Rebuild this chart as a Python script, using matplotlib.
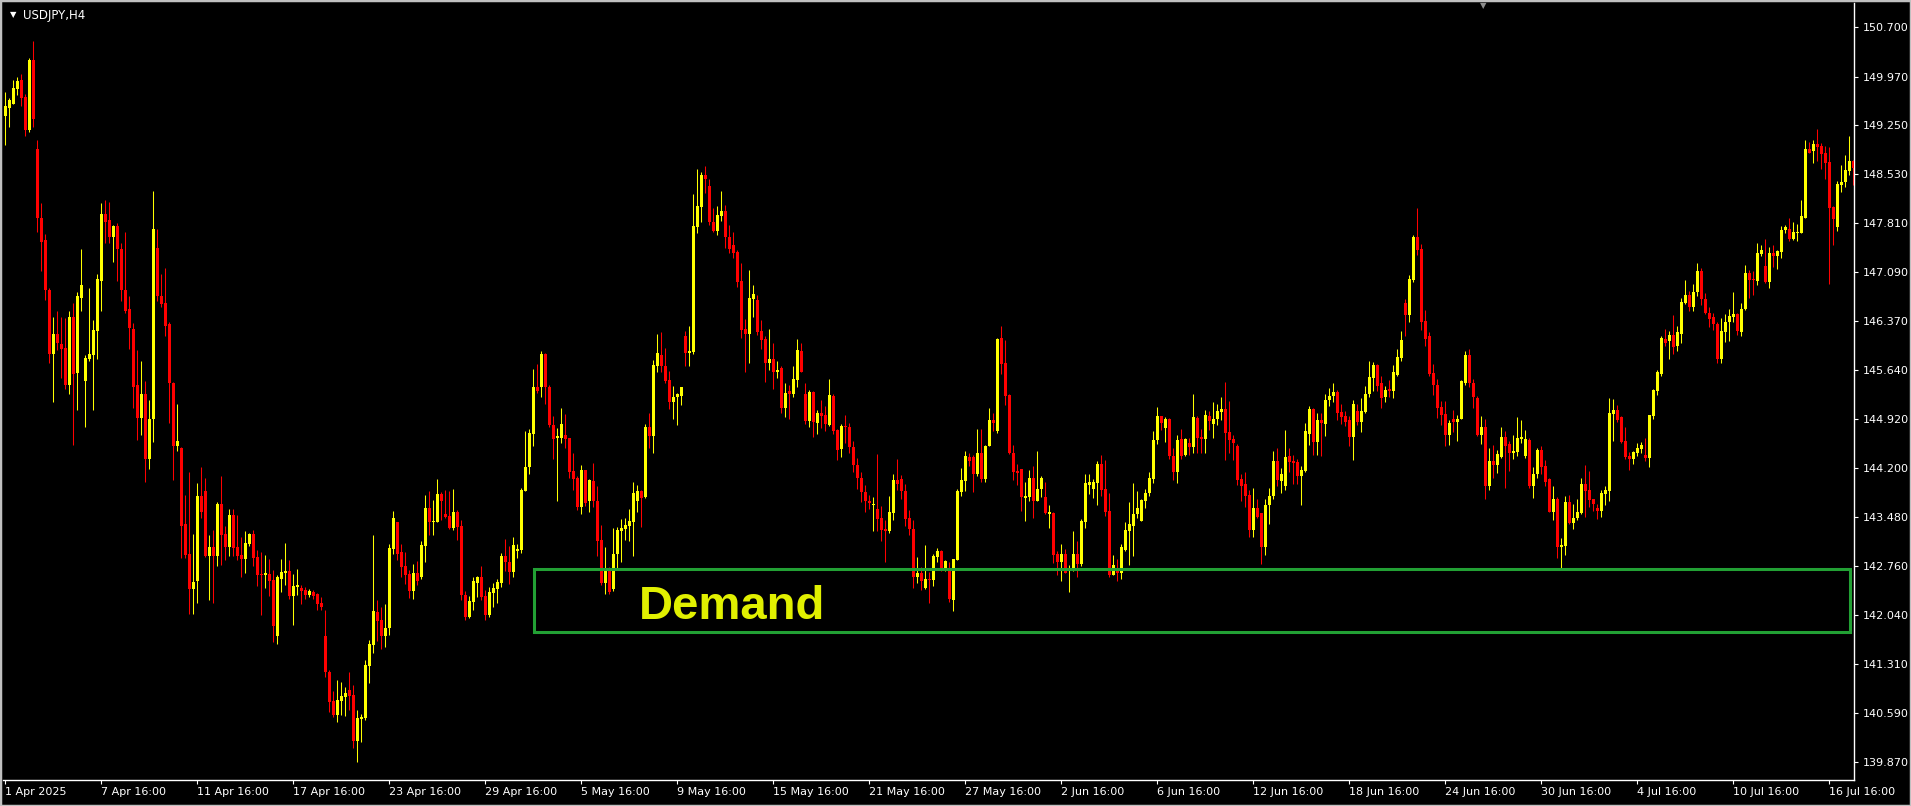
import matplotlib.pyplot as plt
import numpy as np
from matplotlib.patches import Rectangle

# --- USDJPY H4 candles (1 Apr 2025 -> 17 Jul 2025) ---
open_ = [
    149.39, 149.51, 149.57, 149.79, 149.92, 149.67, 149.18, 150.21, 148.90, 147.89,
    147.56, 146.82, 145.88, 146.17, 146.03, 145.97, 145.42, 146.43, 145.60, 146.71,
    145.48, 145.81, 145.87, 146.22, 146.96, 147.95, 147.86, 147.60, 147.77, 147.43,
    146.83, 146.55, 146.25, 145.42, 144.94, 145.30, 144.33, 144.92, 147.45, 146.74,
    146.64, 146.33, 145.46, 144.53, 144.50, 143.37, 142.94, 142.42, 142.53, 143.79,
    143.86, 142.90, 143.04, 142.90, 143.67, 143.23, 143.04, 143.51, 143.04, 142.92,
    142.86, 143.08, 143.23, 142.89, 142.64, 142.62, 142.64, 142.55, 141.73, 142.57,
    142.65, 142.68, 142.32, 142.45, 142.44, 142.40, 142.33, 142.37, 142.34, 142.21,
    141.72, 141.20, 140.77, 140.56, 140.77, 140.83, 140.93, 140.86, 140.18, 140.50,
    140.52, 141.29, 141.60, 142.08, 141.96, 141.73, 141.85, 143.01, 143.40, 142.96,
    142.76, 142.64, 142.39, 142.65, 142.59, 143.06, 143.62, 143.41, 143.41, 143.82,
    143.53, 143.50, 143.32, 143.55, 143.35, 142.33, 142.01, 142.23, 142.51, 142.60,
    142.32, 142.04, 142.36, 142.42, 142.51, 142.91, 142.82, 142.67, 142.98, 142.99,
    143.87, 144.21, 144.71, 145.40, 145.39, 145.88, 145.39, 144.84, 144.65, 144.65,
    144.69, 144.64, 144.16, 144.06, 143.63, 144.17, 143.71, 144.01, 143.72, 143.14,
    142.51, 142.73, 142.42, 142.94, 143.27, 143.30, 143.35, 143.40, 143.72, 143.87,
    143.78, 144.81, 144.68, 145.70, 145.86, 145.70, 145.50, 145.18, 145.25, 145.27,
    146.15, 145.90, 145.91, 147.76, 148.05, 148.52, 148.36, 147.83, 147.69, 147.91,
    147.99, 147.60, 147.49, 147.38, 146.96, 146.25, 146.18, 146.69, 146.68, 146.22,
    146.10, 145.75, 145.81, 145.62, 145.68, 145.09, 145.33, 145.29, 145.50, 145.93,
    145.30, 144.90, 145.32, 144.87, 145.02, 144.98, 144.83, 145.26, 144.76, 144.48,
    144.82, 144.80, 144.51, 144.25, 144.05, 143.85, 143.72, 143.65, 143.60, 143.46,
    143.30, 143.27, 143.54, 144.02, 144.04, 143.86, 143.46, 143.31, 142.60, 142.65,
    142.44, 142.57, 142.55, 142.89, 142.98, 142.71, 142.72, 142.26, 142.85, 143.85,
    144.01, 144.37, 144.37, 144.11, 144.43, 144.04, 144.52, 144.91, 144.75, 146.12,
    145.75, 145.28, 144.43, 144.16, 144.19, 143.76, 143.78, 144.05, 143.71, 143.89,
    143.77, 143.52, 143.54, 142.93, 142.82, 142.93, 142.69, 142.70, 142.94, 142.79,
    143.41, 143.95, 143.89, 143.98, 144.26, 143.89, 143.57, 142.63, 142.70, 142.66,
    143.00, 143.27, 143.35, 143.52, 143.42, 143.72, 143.84, 144.04, 144.61, 144.97,
    144.79, 144.92, 144.38, 144.15, 144.63, 144.39, 144.57, 144.51, 144.94, 144.66,
    144.63, 144.97, 144.85, 144.92, 145.03, 145.07, 144.73, 144.63, 144.52, 144.04,
    143.97, 143.80, 143.29, 143.61, 143.54, 143.04, 143.65, 143.79, 144.30, 144.01,
    143.94, 144.38, 144.30, 144.29, 144.09, 144.16, 144.70, 145.07, 144.59, 144.91,
    144.85, 145.20, 145.26, 145.32, 145.03, 144.97, 144.91, 144.66, 145.04, 144.88,
    145.03, 145.29, 145.53, 145.72, 145.45, 145.25, 145.36, 145.33, 145.57, 145.83,
    146.63, 146.45, 146.97, 147.61, 147.43, 146.37, 146.15, 145.60, 145.42, 145.10,
    145.00, 144.69, 144.92, 144.88, 144.92, 145.45, 145.87, 145.46, 145.24, 144.69,
    144.80, 143.93, 144.30, 144.25, 144.37, 144.66, 144.55, 144.42, 144.44, 144.63,
    144.38, 144.61, 143.94, 144.11, 144.47, 144.23, 144.04, 143.56, 143.75, 143.04,
    143.06, 143.70, 143.39, 143.46, 143.54, 143.97, 143.88, 143.74, 143.62, 143.57,
    143.82, 143.87, 145.00, 145.06, 144.96, 144.60, 144.38, 144.33, 144.43, 144.48,
    144.39, 144.35, 144.97, 145.34, 145.59, 146.11, 146.07, 146.16, 146.00, 146.18,
    146.63, 146.75, 146.58, 146.79, 147.10, 146.69, 146.49, 146.42, 146.32, 145.81,
    146.21, 146.36, 146.43, 146.47, 146.20, 146.54, 147.08, 146.99, 146.96, 147.36,
    147.18, 146.95, 147.37, 147.32, 147.38, 147.71, 147.72, 147.58, 147.67, 147.67,
    147.89, 148.90, 148.88, 148.98, 148.94, 148.84, 148.71, 148.05, 147.76, 148.37,
    148.41, 148.58, 148.72,
]
high = [
    149.74, 149.65, 149.92, 149.96, 150.01, 149.72, 150.25, 150.49, 149.04, 148.11,
    147.65, 146.86, 146.43, 146.51, 146.42, 146.41, 146.51, 146.64, 146.79, 147.43,
    145.86, 146.86, 146.38, 147.06, 148.11, 148.15, 148.12, 147.78, 147.81, 147.52,
    147.68, 146.73, 146.34, 145.94, 145.78, 145.49, 145.20, 148.28, 147.73, 147.06,
    147.15, 146.35, 145.47, 145.14, 144.51, 143.80, 144.15, 143.23, 143.98, 144.21,
    144.06, 143.21, 143.29, 143.70, 144.08, 143.35, 143.60, 143.60, 143.51, 143.18,
    143.27, 143.25, 143.29, 142.99, 142.96, 142.92, 142.86, 142.70, 142.62, 142.86,
    143.10, 142.85, 142.64, 142.71, 142.48, 142.45, 142.42, 142.40, 142.36, 142.30,
    142.11, 141.22, 140.92, 141.08, 141.05, 140.98, 141.19, 141.00, 140.64, 140.58,
    141.37, 141.67, 143.21, 142.26, 142.16, 142.20, 143.08, 143.57, 143.41, 143.08,
    142.96, 142.70, 142.79, 142.83, 143.13, 143.80, 143.86, 143.73, 144.04, 143.85,
    143.88, 143.86, 143.90, 143.58, 143.44, 142.39, 142.32, 142.59, 142.61, 142.76,
    142.40, 142.45, 142.51, 142.57, 142.95, 143.15, 143.06, 143.19, 143.08, 143.91,
    144.75, 144.78, 145.66, 145.74, 145.93, 145.89, 145.43, 144.97, 144.79, 145.09,
    145.00, 144.65, 144.43, 144.08, 144.25, 144.18, 144.04, 144.28, 143.94, 143.36,
    143.04, 142.75, 143.32, 143.34, 143.45, 143.46, 143.60, 144.00, 143.95, 143.88,
    144.85, 145.01, 145.79, 146.18, 146.20, 145.97, 145.63, 145.41, 145.31, 145.39,
    146.22, 146.29, 148.24, 148.61, 148.56, 148.65, 148.46, 148.03, 148.06, 148.28,
    148.08, 147.78, 147.68, 147.41, 147.23, 146.40, 147.12, 146.90, 146.75, 146.38,
    146.15, 146.25, 146.05, 145.78, 145.70, 145.46, 145.42, 145.70, 146.10, 146.04,
    145.46, 145.35, 145.33, 145.06, 145.21, 145.11, 145.51, 145.30, 144.77, 144.85,
    144.98, 144.87, 144.60, 144.35, 144.15, 143.95, 143.80, 143.77, 144.41, 143.64,
    143.43, 143.79, 144.12, 144.33, 144.10, 143.97, 143.58, 143.43, 142.89, 142.75,
    143.07, 142.67, 142.94, 143.03, 142.99, 142.85, 142.81, 142.86, 143.89, 144.20,
    144.45, 144.42, 144.39, 144.78, 144.78, 144.54, 145.08, 145.01, 146.12, 146.29,
    146.09, 145.29, 144.54, 144.26, 144.19, 144.00, 144.17, 144.23, 144.45, 144.08,
    144.00, 143.66, 143.56, 142.98, 143.08, 143.01, 142.78, 143.27, 143.13, 143.45,
    144.11, 144.11, 144.04, 144.30, 144.39, 144.32, 143.84, 142.92, 142.86, 143.08,
    143.40, 143.70, 143.98, 143.86, 143.75, 143.90, 144.14, 144.75, 145.10, 144.97,
    144.96, 144.94, 144.49, 144.69, 144.78, 144.65, 144.65, 145.29, 144.97, 144.78,
    145.05, 145.04, 145.18, 145.15, 145.25, 145.47, 145.19, 144.69, 144.55, 144.11,
    144.15, 143.88, 143.91, 143.75, 143.54, 143.75, 143.91, 144.45, 144.49, 144.20,
    144.76, 144.49, 144.39, 144.34, 144.23, 144.87, 145.12, 145.08, 145.02, 145.01,
    145.29, 145.38, 145.45, 145.35, 145.14, 145.04, 144.97, 145.21, 145.14, 145.23,
    145.41, 145.78, 145.76, 145.73, 145.56, 145.41, 145.50, 145.72, 145.96, 146.22,
    146.69, 147.05, 147.64, 148.04, 147.51, 146.53, 146.20, 145.73, 145.51, 145.19,
    145.19, 144.91, 145.06, 144.99, 145.50, 145.93, 145.96, 145.51, 145.26, 144.97,
    144.92, 144.50, 144.54, 144.47, 144.81, 144.75, 144.60, 144.69, 144.95, 144.91,
    144.76, 144.65, 144.22, 144.50, 144.53, 144.32, 144.05, 143.94, 143.77, 143.17,
    143.79, 143.80, 143.67, 143.74, 144.05, 144.25, 144.16, 143.75, 143.67, 143.88,
    143.94, 145.24, 145.22, 145.13, 144.97, 144.81, 144.44, 144.46, 144.57, 144.59,
    144.65, 144.99, 145.36, 145.65, 146.15, 146.25, 146.22, 146.46, 146.29, 146.70,
    146.97, 146.81, 146.91, 147.22, 147.15, 146.78, 146.57, 146.48, 146.36, 146.41,
    146.47, 146.54, 146.79, 146.49, 146.64, 147.19, 147.12, 147.10, 147.52, 147.49,
    147.57, 147.46, 147.49, 147.42, 147.77, 147.78, 147.89, 147.82, 147.80, 148.15,
    149.04, 149.01, 149.04, 149.20, 148.99, 148.94, 148.93, 148.06, 148.43, 148.67,
    148.81, 149.09, 148.74,
]
low = [
    148.96, 149.23, 149.56, 149.70, 149.53, 149.10, 149.15, 149.23, 147.68, 147.11,
    146.68, 145.75, 145.17, 145.94, 145.53, 145.36, 145.30, 144.54, 145.05, 146.51,
    144.80, 145.78, 145.06, 145.81, 146.51, 147.52, 147.52, 147.24, 146.96, 146.67,
    146.48, 145.96, 145.08, 144.61, 144.69, 143.99, 144.19, 144.59, 146.67, 146.58,
    146.15, 144.86, 144.02, 144.46, 142.88, 142.88, 142.05, 142.05, 142.22, 143.47,
    142.89, 142.25, 142.22, 142.76, 142.78, 142.85, 142.90, 142.90, 142.84, 142.59,
    142.66, 143.05, 142.76, 142.47, 142.04, 142.44, 142.31, 141.64, 141.61, 142.38,
    142.48, 142.27, 141.89, 142.33, 142.20, 142.27, 142.30, 142.27, 142.11, 142.11,
    141.13, 140.61, 140.54, 140.46, 140.57, 140.55, 140.64, 140.08, 139.87, 140.17,
    140.49, 141.03, 141.48, 141.66, 141.53, 141.57, 141.74, 142.93, 142.85, 142.59,
    142.49, 142.29, 142.27, 142.48, 142.56, 142.82, 143.21, 143.21, 143.40, 143.44,
    143.46, 143.30, 143.29, 143.14, 142.26, 141.96, 141.99, 142.11, 142.30, 142.26,
    141.96, 142.00, 142.16, 142.21, 142.45, 142.68, 142.49, 142.60, 142.88, 142.95,
    143.87, 144.11, 144.53, 145.31, 145.25, 145.15, 144.81, 144.33, 143.72, 144.57,
    144.50, 144.05, 143.88, 143.58, 143.53, 143.64, 143.56, 143.63, 142.90, 142.48,
    142.35, 142.35, 142.39, 142.73, 142.82, 143.14, 143.12, 142.90, 143.56, 143.33,
    143.76, 144.50, 144.43, 145.61, 145.61, 145.45, 145.07, 144.93, 144.83, 145.13,
    145.70, 145.71, 145.88, 147.66, 147.82, 148.26, 147.78, 147.68, 147.64, 147.84,
    147.45, 147.37, 147.29, 146.87, 146.12, 145.61, 145.75, 146.43, 146.16, 145.95,
    145.47, 145.64, 145.36, 145.53, 145.01, 144.96, 144.92, 145.25, 145.40, 145.61,
    144.85, 144.80, 144.66, 144.70, 144.79, 144.75, 144.82, 144.71, 144.32, 144.37,
    144.57, 144.43, 144.15, 143.90, 143.70, 143.55, 143.60, 143.28, 143.28, 143.13,
    142.81, 143.25, 143.43, 143.88, 143.74, 143.35, 143.21, 142.44, 142.51, 142.41,
    142.42, 142.22, 142.47, 142.81, 142.69, 142.69, 142.23, 142.10, 142.85, 143.79,
    143.87, 144.23, 143.85, 144.08, 143.99, 143.99, 144.52, 144.75, 144.72, 145.59,
    145.13, 144.41, 144.02, 143.95, 143.57, 143.42, 143.71, 143.47, 143.71, 143.78,
    143.52, 143.32, 142.80, 142.62, 142.53, 142.66, 142.38, 142.69, 142.60, 142.76,
    143.32, 143.82, 143.76, 143.66, 143.79, 143.49, 142.60, 142.62, 142.53, 142.56,
    142.98, 142.77, 142.90, 143.46, 143.42, 143.62, 143.79, 143.98, 144.55, 144.76,
    144.58, 144.34, 144.03, 143.98, 144.33, 144.38, 144.39, 144.42, 144.42, 144.43,
    144.43, 144.76, 144.65, 144.84, 144.91, 144.32, 144.43, 144.32, 143.95, 143.72,
    143.63, 143.18, 143.19, 143.46, 142.79, 142.92, 143.38, 143.74, 143.94, 143.83,
    143.88, 144.15, 143.97, 143.97, 143.65, 144.14, 144.54, 144.39, 144.39, 144.38,
    144.67, 145.11, 145.18, 144.91, 144.85, 144.82, 144.53, 144.32, 144.84, 144.74,
    145.02, 145.25, 145.34, 145.34, 145.08, 145.18, 145.25, 145.24, 145.56, 145.78,
    146.14, 146.36, 146.95, 147.34, 146.23, 146.00, 145.56, 145.28, 144.94, 144.84,
    144.52, 144.54, 144.74, 144.60, 144.92, 145.43, 145.39, 145.09, 144.67, 144.55,
    143.74, 143.88, 144.06, 144.13, 144.35, 143.91, 144.16, 144.34, 144.38, 144.57,
    144.35, 143.91, 143.76, 144.05, 144.12, 143.93, 143.55, 143.43, 142.88, 142.71,
    142.92, 143.38, 143.30, 143.44, 143.52, 143.48, 143.63, 143.57, 143.45, 143.48,
    143.66, 143.72, 144.60, 144.88, 144.57, 144.33, 144.17, 144.26, 144.38, 144.43,
    144.30, 144.21, 144.92, 145.28, 145.56, 146.00, 145.81, 145.88, 145.93, 146.05,
    146.62, 146.51, 146.51, 146.73, 146.60, 146.47, 146.28, 146.24, 145.75, 145.75,
    146.06, 146.08, 146.35, 146.16, 146.14, 146.53, 146.71, 146.75, 146.90, 147.32,
    146.93, 146.85, 147.17, 147.14, 147.30, 147.67, 147.55, 147.56, 147.55, 147.66,
    147.89, 148.84, 148.70, 148.73, 148.61, 148.46, 146.91, 147.49, 147.70, 148.27,
    148.35, 148.52, 148.37,
]
close = [
    149.53, 149.62, 149.80, 149.90, 149.66, 149.18, 150.21, 149.35, 147.88, 147.53,
    146.82, 145.88, 146.17, 146.05, 145.95, 145.42, 146.42, 145.59, 146.73, 146.90,
    145.83, 145.88, 146.23, 146.99, 147.95, 147.82, 147.61, 147.77, 147.43, 146.82,
    146.51, 146.26, 145.40, 144.94, 145.30, 144.33, 144.92, 147.73, 146.73, 146.62,
    146.30, 145.45, 144.53, 144.60, 143.35, 142.92, 142.42, 142.52, 143.79, 143.56,
    142.90, 143.04, 142.90, 143.67, 143.22, 143.04, 143.51, 143.03, 142.90, 142.86,
    143.10, 143.23, 142.88, 142.62, 142.62, 142.65, 142.54, 141.88, 142.59, 142.67,
    142.68, 142.32, 142.46, 142.48, 142.39, 142.33, 142.39, 142.32, 142.20, 142.15,
    141.19, 140.76, 140.56, 140.78, 140.84, 140.89, 140.85, 140.18, 140.52, 140.54,
    141.30, 141.61, 142.09, 141.95, 141.73, 141.85, 143.02, 143.46, 142.93, 142.74,
    142.62, 142.39, 142.65, 142.54, 143.07, 143.61, 143.41, 143.42, 143.82, 143.72,
    143.48, 143.32, 143.55, 143.34, 142.33, 142.00, 142.24, 142.53, 142.60, 142.30,
    142.04, 142.37, 142.44, 142.52, 142.91, 142.81, 142.67, 143.07, 143.01, 143.88,
    144.22, 144.72, 145.40, 145.34, 145.88, 145.39, 144.83, 144.63, 144.68, 144.85,
    144.63, 144.15, 144.04, 143.63, 144.17, 143.69, 144.02, 143.71, 143.13, 142.51,
    142.73, 142.38, 142.94, 143.29, 143.32, 143.36, 143.42, 143.84, 143.86, 143.76,
    144.81, 144.68, 145.72, 145.90, 145.70, 145.49, 145.18, 145.25, 145.29, 145.39,
    145.90, 145.93, 147.77, 148.06, 148.52, 148.46, 147.82, 147.69, 147.93, 147.99,
    147.60, 147.43, 147.37, 146.95, 146.24, 146.18, 146.71, 146.77, 146.21, 146.09,
    145.75, 145.81, 145.61, 145.65, 145.09, 145.31, 145.29, 145.51, 145.94, 145.62,
    144.90, 145.32, 144.88, 145.02, 144.97, 144.85, 145.28, 144.75, 144.47, 144.82,
    144.80, 144.51, 144.25, 144.05, 143.85, 143.72, 143.68, 143.66, 143.45, 143.29,
    143.27, 143.55, 144.02, 143.97, 143.86, 143.45, 143.30, 142.60, 142.66, 142.54,
    142.57, 142.55, 142.90, 142.98, 142.71, 142.83, 142.27, 142.86, 143.86, 144.02,
    144.38, 144.30, 144.11, 144.43, 144.04, 144.53, 144.91, 144.87, 146.10, 145.74,
    145.27, 144.42, 144.15, 144.13, 143.78, 143.79, 144.05, 143.72, 143.89, 144.05,
    143.54, 143.56, 142.92, 142.82, 142.93, 142.66, 142.71, 142.94, 142.79, 143.42,
    143.98, 144.00, 144.00, 144.26, 143.88, 143.55, 142.63, 142.77, 142.66, 143.04,
    143.29, 143.38, 143.53, 143.61, 143.73, 143.84, 144.05, 144.62, 144.97, 144.86,
    144.93, 144.38, 144.15, 144.62, 144.38, 144.63, 144.51, 144.95, 144.65, 144.63,
    144.98, 144.89, 144.93, 145.04, 145.07, 144.72, 144.61, 144.57, 144.03, 143.94,
    143.79, 143.29, 143.62, 143.48, 143.04, 143.66, 143.79, 144.30, 144.03, 144.12,
    144.37, 144.29, 144.27, 144.09, 144.17, 144.75, 145.07, 144.59, 144.91, 144.86,
    145.21, 145.26, 145.32, 145.02, 144.95, 144.88, 144.66, 145.15, 144.88, 145.04,
    145.29, 145.54, 145.72, 145.41, 145.24, 145.35, 145.33, 145.61, 145.84, 146.09,
    146.45, 146.99, 147.61, 147.41, 146.36, 146.10, 145.59, 145.42, 145.09, 144.99,
    144.69, 144.87, 144.88, 144.93, 145.48, 145.87, 145.45, 145.25, 144.69, 144.80,
    143.93, 144.30, 144.25, 144.41, 144.66, 144.53, 144.42, 144.46, 144.65, 144.66,
    144.63, 143.94, 144.11, 144.47, 144.22, 144.00, 143.56, 143.75, 143.04, 143.07,
    143.70, 143.39, 143.47, 143.55, 143.97, 143.86, 143.73, 143.67, 143.57, 143.83,
    143.88, 145.01, 145.06, 144.91, 144.58, 144.37, 144.33, 144.44, 144.49, 144.54,
    144.35, 144.98, 145.35, 145.61, 146.12, 146.04, 146.16, 145.99, 146.20, 146.65,
    146.75, 146.58, 146.79, 147.10, 146.69, 146.48, 146.40, 146.32, 145.81, 146.22,
    146.36, 146.44, 146.47, 146.22, 146.55, 147.08, 146.97, 146.97, 147.37, 147.42,
    146.95, 147.37, 147.32, 147.40, 147.71, 147.76, 147.58, 147.68, 147.68, 147.91,
    148.90, 148.85, 148.98, 148.93, 148.83, 148.70, 148.04, 147.87, 148.39, 148.42,
    148.59, 148.72, 148.63,
]

price_ticks = [150.700, 149.970, 149.250, 148.530, 147.810, 147.090, 146.370, 145.640,
               144.920, 144.200, 143.480, 142.760, 142.040, 141.310, 140.590, 139.870]
date_labels = ["1 Apr 2025", "7 Apr 16:00", "11 Apr 16:00", "17 Apr 16:00", "23 Apr 16:00",
               "29 Apr 16:00", "5 May 16:00", "9 May 16:00", "15 May 16:00", "21 May 16:00",
               "27 May 16:00", "2 Jun 16:00", "6 Jun 16:00", "12 Jun 16:00", "18 Jun 16:00",
               "24 Jun 16:00", "30 Jun 16:00", "4 Jul 16:00", "10 Jul 16:00", "16 Jul 16:00"]
date_bars = [0, 24, 48, 72, 96, 120, 144, 168, 192, 216, 240, 264, 288, 312, 336,
             360, 384, 408, 432, 456]

# demand zone drawn on the chart
demand_low, demand_high = 141.79, 142.71
demand_first_bar, demand_last_bar = 132.25, 461.25

BULL = '#ffff00'
BEAR = '#ff0000'

W, H = 1911, 806
fig = plt.figure(figsize=(W / 100, H / 100), dpi=100, facecolor='black')
ax = fig.add_axes([3 / W, 1 - 780 / H, (1854 - 3) / W, (780 - 3) / H])
ax.set_facecolor('black')

o = np.array(open_)
h = np.array(high)
l = np.array(low)
c = np.array(close)
x = np.arange(len(c))
colors = np.where(c >= o, BULL, BEAR)

# wicks then bodies
ax.vlines(x, l, h, colors=colors, linewidth=0.75, zorder=2)
body = np.maximum(np.abs(c - o), 0.0147)
ax.bar(x, body, bottom=np.minimum(o, c), width=0.75, color=colors,
       linewidth=0, zorder=3)

# demand rectangle + label
ax.add_patch(Rectangle((demand_first_bar, demand_low), demand_last_bar - demand_first_bar,
                       demand_high - demand_low, fill=False, edgecolor='#22a034',
                       linewidth=2.2, zorder=4))
ax.text(158.5, 141.98, 'Demand', color='#e1f000', fontsize=34, fontweight='bold',
        family='Liberation Sans', va='baseline', ha='left', zorder=5)

ax.set_xlim(-0.5, 462.25)
ax.set_ylim(139.605, 151.054)

# right price scale
ax.yaxis.tick_right()
ax.set_yticks(price_ticks)
ax.set_yticklabels([f'{p:.3f}' for p in price_ticks])
ax.tick_params(axis='y', colors='white', labelsize=8, length=3, width=0.8, pad=3,
               direction='out')

# bottom time scale
ax.set_xticks(date_bars)
ax.set_xticklabels(date_labels, ha='left')
ax.tick_params(axis='x', colors='white', labelsize=8, length=3, width=0.8, pad=2,
               direction='out')

for side in ['left', 'top']:
    ax.spines[side].set_visible(False)
for side in ['right', 'bottom']:
    ax.spines[side].set_color('white')
    ax.spines[side].set_linewidth(1)

# title + markers
fig.text(10 / W, 1 - 15 / H, '\u25bc', color='white', fontsize=6, va='center')
fig.text(23 / W, 1 - 15 / H, 'USDJPY,H4', color='white', fontsize=8.5, va='center')
fig.text(1483 / W, 1 - 6 / H, '\u25bc', color='#8c8c8c', fontsize=6, va='center',
         ha='center')

# window border
fig.add_artist(Rectangle((0, 0), 1, 1, transform=fig.transFigure, fill=False,
                         edgecolor='#c0c0c0', linewidth=2.5))

fig.savefig('out.png', dpi=100, facecolor='black')
